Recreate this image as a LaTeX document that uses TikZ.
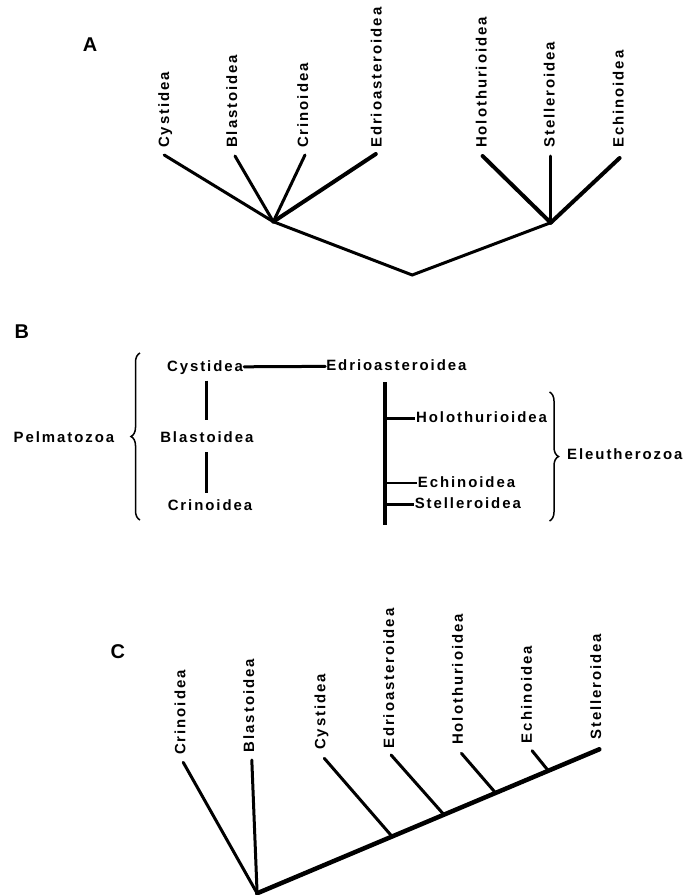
\documentclass[tikz,border=0pt]{standalone}
\usepackage{fontspec}
\setmainfont{Liberation Sans}
\newfontfamily\taxafont[LetterSpace=13]{Liberation Sans Bold}
\usetikzlibrary{positioning,calc,decorations.pathreplacing}

\tikzset{
  twig/.style={line width=3bp, line cap=round},
  limb/.style={line width=4bp, line cap=round},
  taxon/.style={font=\taxafont\fontsize{15}{16}\selectfont, inner sep=1bp, text height=11bp, text depth=3bp},
  upright/.style={taxon, rotate=90, anchor=west, inner sep=0pt},
  panel/.style={font=\bfseries\fontsize{20}{20}\selectfont, inner sep=0pt},
  curly/.style={decorate, decoration={brace, amplitude=9bp}, line width=1.5bp},
}

\begin{document}
\begin{tikzpicture}[x=1bp, y=-1bp]
  \useasboundingbox (0,0) rectangle (684,895);

  % A
  \node[panel] (pA) at (90,45) {A};
  \node[upright] (aCys) at (165,148) {Cystidea};
  \node[upright] (aBla) at (233,148) {Blastoidea};
  \node[upright] (aCri) at (304,148) {Crinoidea};
  \node[upright] (aEdr) at (377.7,148) {Edrioasteroidea};
  \node[upright] (aHol) at (482.6,148) {Holothurioidea};
  \node[upright] (aSte) at (550.7,148) {Stelleroidea};
  \node[upright] (aEch) at (619.6,148) {Echinoidea};
  \coordinate (aCysT) at (164.2,155);
  \coordinate (aBlaT) at (235,156);
  \coordinate (aCriT) at (305,155);
  \coordinate (aEdrT) at (375.8,154);
  \coordinate (aHolT) at (482.6,156);
  \coordinate (aSteT) at (550.7,156);
  \coordinate (aEchT) at (619.6,158);
  \coordinate (aLeft) at (273.3,221.7);
  \coordinate (aRight) at (550.7,222.7);
  \coordinate (aRoot) at (412.2,275);
  \draw[twig] (aCysT) -- (aLeft);
  \draw[twig] (aBlaT) -- (aLeft);
  \draw[twig] (aCriT) -- (aLeft);
  \draw[limb] (aEdrT) -- (aLeft);
  \draw[limb] (aHolT) -- (aRight);
  \draw[twig] (aSteT) -- (aRight);
  \draw[limb] (aEchT) -- (aRight);
  \draw[twig] (aLeft) -- (aRoot) -- (aRight);

  % B
  \node[panel] (pB) at (21.8,331.7) {B};
  \node[taxon] (bCys) at (205,367) {Cystidea};
  \node[taxon] (bEdr) at (396.4,366) {Edrioasteroidea};
  \node[taxon] (bBla) at (206.8,438) {Blastoidea};
  \node[taxon] (bCri) at (210,506.5) {Crinoidea};
  \node[taxon] (bPel) at (64,438) {Pelmatozoa};
  \node[taxon, anchor=west] (bHol) at (415,418) {Holothurioidea};
  \node[taxon, anchor=west] (bEch) at (416.7,483) {Echinoidea};
  \node[taxon, anchor=west] (bSte) at (413.6,504) {Stelleroidea};
  \node[taxon, anchor=west] (bEle) at (566,455) {Eleutherozoa};
  \coordinate (bStemT) at (385.3,382);
  \coordinate (bStemB) at (385.3,525);
  \draw[twig] (bCys) -- (bEdr);
  \draw[twig, line cap=butt, shorten <=5.5bp, shorten >=10bp] (bBla.north |- bCys.south) -- (bBla.north);
  \draw[twig, line cap=butt, shorten <=6bp, shorten >=5bp] (bBla.south) -- (bBla.south |- bCri.north);
  \draw[limb, line cap=butt] (bStemT) -- (bStemB);
  \draw[twig, line cap=butt] (bStemT |- bHol.west) -- (bHol.west);
  \draw[twig, line cap=butt, line width=2.3bp] (bStemT |- bEch.west) -- (bEch.west);
  \draw[twig, line cap=butt] (bStemT |- bSte.west) -- (bSte.west);
  % braces
  \coordinate (bBrL1) at (140,520);
  \coordinate (bBrL2) at (140,353);
  \coordinate (bBrR1) at (549.5,392);
  \coordinate (bBrR2) at (549.5,521);
  \draw[curly] (bBrL1) -- (bBrL2);
  \draw[curly] (bBrR1) -- (bBrR2);

  % C
  \node[panel] (pC) at (117.9,651.7) {C};
  \node[upright] (cCri) at (181.4,755) {Crinoidea};
  \node[upright] (cBla) at (250,752.3) {Blastoidea};
  \node[upright] (cCys) at (321.4,750) {Cystidea};
  \node[upright] (cEdr) at (390,749) {Edrioasteroidea};
  \node[upright] (cHol) at (458.9,745) {Holothurioidea};
  \node[upright] (cEch) at (527.9,743.3) {Echinoidea};
  \node[upright] (cSte) at (597.1,740) {Stelleroidea};
  \coordinate (cRoot) at (257.1,893.3);
  \coordinate (cCriT) at (183.2,762.3);
  \coordinate (cBlaT) at (251.8,760);
  \coordinate (cCysT) at (324.3,758.3);
  \coordinate (cEdrT) at (391.1,755);
  \coordinate (cHolT) at (461.4,753.3);
  \coordinate (cEchT) at (532.1,750.7);
  \coordinate (cSteT) at (599.3,749.3);
  \coordinate (cCysB) at ($(cRoot)!0.3945!(cSteT)$);
  \coordinate (cEdrB) at ($(cRoot)!0.546!(cSteT)$);
  \coordinate (cHolB) at ($(cRoot)!0.697!(cSteT)$);
  \coordinate (cEchB) at ($(cRoot)!0.851!(cSteT)$);
  \draw[twig] (cCriT) -- (cRoot);
  \draw[twig] (cBlaT) -- (cRoot);
  \draw[twig] (cCysT) -- (cCysB);
  \draw[twig] (cEdrT) -- (cEdrB);
  \draw[twig] (cHolT) -- (cHolB);
  \draw[twig] (cEchT) -- (cEchB);
  \draw[limb, line width=4.5bp] (cRoot) -- (cSteT);
\end{tikzpicture}
\end{document}
